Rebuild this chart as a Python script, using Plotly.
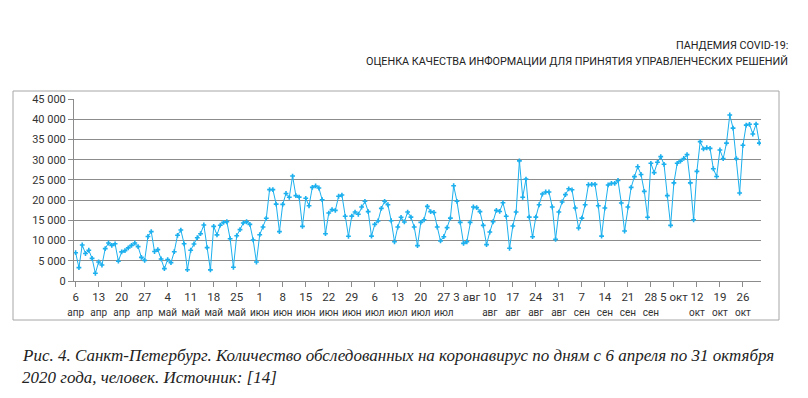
import pandas as pd
import plotly.graph_objects as go

# Daily number of people tested, 6 Apr - 31 Oct 2020
apr = [7000, 3300, 8900, 6800, 7600, 5600, 1900, 4700, 3950, 8000, 9400, 8800, 9200, 4900,
       7200, 7500, 8200, 8800, 9400, 8500, 5850, 5100, 11000, 12200, 7300]
may = [7750, 5450, 3050, 5300, 4550, 7250, 11300, 12600, 9200, 2800, 7600, 9150, 10700, 11700,
       13850, 8250, 2750, 13500, 11400, 13800, 14500, 14650, 10450, 3400, 11200, 12700, 14350,
       14650, 14000, 10150, 4700]
jun = [11450, 13350, 15500, 22600, 22600, 19000, 12200, 18950, 21650, 20700, 25950, 21100,
       20750, 13500, 20450, 18600, 23150, 23500, 23000, 20100, 11700, 16800, 17650, 17450,
       20950, 21250, 16000, 11050, 16050, 17050]
jul = [16500, 18300, 19700, 17150, 11100, 14000, 14850, 17950, 19700, 18850, 14900, 9700,
       13350, 15750, 14600, 17050, 15800, 13350, 8750, 14500, 15150, 18450, 17150, 16950,
       13350, 9900, 10950, 13200, 15550, 23550, 19700]
aug = [14500, 9300, 9700, 14500, 18300, 18150, 17150, 13750, 9000, 12100, 14650, 17450, 17200,
       19350, 16000, 8100, 13600, 17050, 29700, 20700, 25200, 15800, 10950, 15800, 18850,
       21500, 22000, 22000, 18300, 10300, 17050]
sep = [19550, 21350, 22800, 22550, 18050, 13100, 15550, 18850, 23800, 23900, 23900, 18600,
       11100, 18050, 23750, 24150, 24150, 24850, 19300, 12350, 18300, 23150, 25800, 28250,
       26350, 22150, 15750, 29100, 26800, 29350]
oct_ = [30750, 28850, 21100, 13750, 24250, 29100, 29650, 30300, 31250, 24250, 15150, 27100,
        34450, 32650, 32950, 32800, 27750, 25850, 32400, 30250, 34100, 41050, 37800, 30250,
        21750, 33550, 38550, 38750, 36350, 38800, 34100]

values = apr + may + jun + jul + aug + sep + oct_
dates = pd.date_range("2020-04-06", "2020-10-31", freq="D")

tick_dates = pd.date_range("2020-04-06", "2020-10-26", freq="7D")
tick_days = ["6", "13", "20", "27", "4", "11", "18", "25", "1", "8", "15", "22", "29", "6",
             "13", "20", "27", "3 авг", "10", "17", "24", "31", "7", "14", "21", "28", "5 окт",
             "12", "19", "26"]
tick_months = ["апр", "апр", "апр", "апр", "май", "май", "май", "май", "июн", "июн", "июн",
               "июн", "июн", "июл", "июл", "июл", "июл", "", "авг", "авг", "авг", "авг", "сен",
               "сен", "сен", "сен", "", "окт", "окт", "окт"]

y_ticks = [0, 5000, 10000, 15000, 20000, 25000, 30000, 35000, 40000, 45000]
y_labels = ["0", "5 000", "10 000", "15 000", "20 000", "25 000", "30 000", "35 000",
            "40 000", "45 000"]

header1 = "ПАНДЕМИЯ COVID-19:"
header2 = "ОЦЕНКА КАЧЕСТВА ИНФОРМАЦИИ ДЛЯ ПРИНЯТИЯ УПРАВЛЕНЧЕСКИХ РЕШЕНИЙ"
caption1 = ("Рис. 4. Санкт-Петербург. Количество обследованных на коронавирус по дням "
            "с 6 апреля по 31 октября")
caption2 = "2020 года, человек. Источник: [14]"

LINE = "#1cb0ee"
GRID = "#8c8c8c"
TXT = "#333333"
SANS = "Roboto, Open Sans, sans-serif"
SERIF = "Liberation Serif, Times New Roman, serif"

ticktext = []
for d, m in zip(tick_days, tick_months):
    if m:
        ticktext.append(d + "<br><span style='font-size:10px'>" + m + "</span>")
    else:
        ticktext.append(d)

fig = go.Figure()
fig.add_trace(go.Scatter(
    x=dates, y=values, mode="lines+markers",
    line=dict(color=LINE, width=1),
    marker=dict(symbol="cross", size=4, color=LINE, line=dict(width=0)),
    hoverinfo="x+y", showlegend=False,
))

# page body has an 8px margin: all reference pixel positions are shifted by -8
OFF = 8
L, R, T, B = 74 - OFF, 761 - OFF, 99 - OFF, 281 - OFF
W, H = 808 - OFF, 398 - OFF


def px(xp):
    return (xp - OFF - L) / (R - L)


def py(yp):
    return (B - (yp - OFF)) / (B - T)


fig.update_layout(
    width=W, height=H,
    margin=dict(l=L, r=W - R, t=T, b=H - B, pad=0),
    paper_bgcolor="white", plot_bgcolor="white",
    xaxis=dict(
        range=[pd.Timestamp("2020-04-05 12:00"), pd.Timestamp("2020-10-31 12:00")],
        tickvals=tick_dates, ticktext=ticktext,
        tickangle=0, automargin=False,
        showgrid=False, zeroline=False,
        showline=True, linecolor=GRID, linewidth=1,
        ticks="outside", ticklen=5, tickcolor=GRID,
        tickfont=dict(family=SANS, size=11.5, color=TXT),
    ),
    yaxis=dict(
        range=[0, 45000], tickvals=y_ticks, ticktext=y_labels, automargin=False,
        showgrid=True, gridcolor=GRID, gridwidth=1, zeroline=False,
        showline=True, linecolor=GRID, linewidth=1,
        ticks="outside", ticklen=5, tickcolor=GRID,
        tickfont=dict(family=SANS, size=11, color=TXT),
    ),
    shapes=[dict(type="rect", xref="paper", yref="paper",
                 x0=px(13), x1=px(779), y0=py(320), y1=py(91),
                 line=dict(color="#a6a6a6", width=1), fillcolor="rgba(0,0,0,0)",
                 layer="below")],
    annotations=[
        dict(text=header1, xref="paper", yref="paper", x=px(790), y=py(46),
             xanchor="right", yanchor="middle", showarrow=False,
             font=dict(family=SANS, size=10.8, color="#222222")),
        dict(text=header2, xref="paper", yref="paper", x=px(790), y=py(61),
             xanchor="right", yanchor="middle", showarrow=False,
             font=dict(family=SANS, size=10.8, color="#222222")),
        dict(text="<i>" + caption1 + "</i>", xref="paper", yref="paper", x=px(20), y=py(355),
             xanchor="left", yanchor="middle", showarrow=False,
             font=dict(family=SERIF, size=17, color="#222222")),
        dict(text="<i>" + caption2 + "</i>", xref="paper", yref="paper", x=px(20), y=py(377),
             xanchor="left", yanchor="middle", showarrow=False,
             font=dict(family=SERIF, size=17, color="#222222")),
    ],
)

fig.write_html("out.html")
